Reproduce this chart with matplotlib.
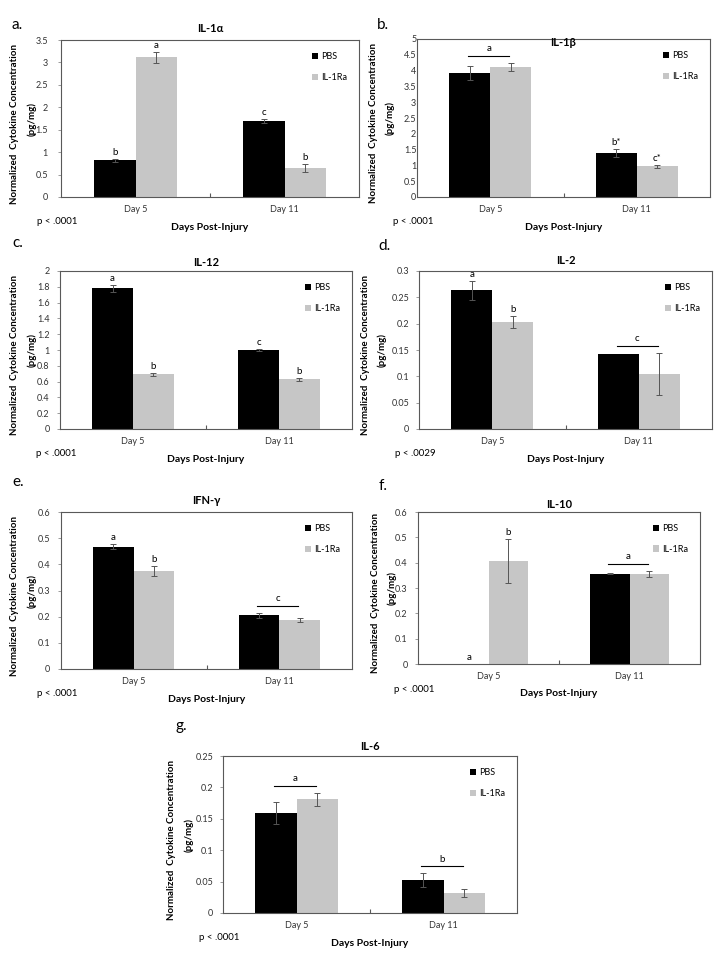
import numpy as np
import matplotlib
matplotlib.use("Agg")
import matplotlib.pyplot as plt
from matplotlib.patches import Patch

plt.rcParams['font.family'] = ['Lato', 'DejaVu Sans']

# data
days = ["Day 5", "Day 11"]
groups = ["PBS", "IL-1Ra"]
titles = ["IL-1α", "IL-1β", "IL-12", "IL-2", "IFN-γ", "IL-10", "IL-6"]
panel_tags = ["a.", "b.", "c.", "d.", "e.", "f.", "g."]
p_values = ["p < .0001", "p < .0001", "p < .0001", "p < .0029",
            "p < .0001", "p < .0001", "p < .0001"]

pbs_mean = [[0.82, 1.70], [3.92, 1.39], [1.78, 1.00], [0.263, 0.142],
            [0.468, 0.205], [0.0, 0.356], [0.159, 0.052]]
pbs_err = [[0.03, 0.04], [0.22, 0.12], [0.04, 0.01], [0.018, 0.0],
           [0.01, 0.01], [0.0, 0.002], [0.017, 0.011]]
ra_mean = [[3.11, 0.65], [4.12, 0.97], [0.69, 0.63], [0.203, 0.104],
           [0.375, 0.188], [0.408, 0.356], [0.181, 0.032]]
ra_err = [[0.12, 0.09], [0.12, 0.04], [0.02, 0.02], [0.012, 0.04],
          [0.02, 0.008], [0.087, 0.012], [0.01, 0.007]]

# letters per bar (PBS, IL-1Ra) for each day; a single string = one letter over a bracket
letters = [
    [("b", "a"), ("c", "b")],
    ["a", ("b*", "c*")],
    [("a", "b"), ("c", "b")],
    [("a", "b"), "c"],
    [("a", "b"), "c"],
    [("a", "b"), "a"],
    ["a", "b"],
]

y_max = [3.5, 5, 2, 0.3, 0.6, 0.6, 0.25]
y_step = [0.5, 0.5, 0.2, 0.05, 0.1, 0.1, 0.05]

# layout in figure pixels: left, top, width, height
W, H = 720, 960
boxes = [(61, 40, 298, 157), (417, 39, 293, 158),
         (60, 271, 292, 158), (419, 271, 293, 158),
         (61, 512, 291, 157), (418, 512, 282, 152),
         (223, 756, 294, 157)]
title_off = [12, -4, 9, 11, 11, 7, 9]
tick_pad = [7, 0.5, 5, 4.5, 5.5, 5, 4.5]
ylab_off = [-46, -44, -45, -54, -46, -43, -51]
tag_pos = [(12, 25), (377, 25), (12, 243), (378, 246), (12, 482), (379, 486), (175, 726)]

black = "#000000"
grey = "#c6c6c6"
frame = "#595959"
err_col = "#555555"

fig = plt.figure(figsize=(7.2, 9.6), dpi=100)

bw = 0.28
x = np.arange(len(days))

for i in range(7):
    l, t, w, h = boxes[i]
    ax = fig.add_axes([l / W, 1 - (t + h) / H, w / W, h / H])
    top = y_max[i]

    ax.bar(x - bw / 2, pbs_mean[i], bw, color=black, zorder=2)
    ax.bar(x + bw / 2, ra_mean[i], bw, color=grey, zorder=2)
    for xs, m, e in [(x - bw / 2, pbs_mean[i], pbs_err[i]), (x + bw / 2, ra_mean[i], ra_err[i])]:
        for xx, mm, ee in zip(xs, m, e):
            if ee > 0:
                ax.errorbar(xx, mm, yerr=ee, color=err_col, elinewidth=0.7,
                            capsize=2, capthick=0.7, zorder=3)

    for d in range(len(days)):
        lab = letters[i][d]
        ups = [pbs_mean[i][d] + pbs_err[i][d], ra_mean[i][d] + ra_err[i][d]]
        if isinstance(lab, str):
            yline = max(ups) + 0.045 * top
            ax.plot([x[d] - 0.15, x[d] + 0.13], [yline, yline], color=black, lw=0.8, zorder=3)
            ax.annotate(lab, (x[d] - 0.01, yline), xytext=(0, 2), textcoords="offset points",
                        ha="center", va="bottom", fontsize=7)
        else:
            for k, off in enumerate([-bw / 2, bw / 2]):
                ax.annotate(lab[k], (x[d] + off, ups[k]), xytext=(0, 1.5), textcoords="offset points",
                            ha="center", va="bottom", fontsize=7)

    ax.set_xlim(-0.5, 1.5)
    ax.set_ylim(0, top)
    ax.set_yticks(np.arange(0, top + y_step[i] / 2, y_step[i]))
    ax.set_yticklabels([f"{round(v, 4):g}" for v in ax.get_yticks()])
    ax.tick_params(axis="y", length=2.5 if i != 1 else 0, width=0.6, color="#8c8c8c",
                   pad=tick_pad[i], labelsize=6.5, labelcolor="#333333")
    ax.set_xticks(x)
    ax.set_xticklabels(days)
    ax.tick_params(axis="x", length=0, pad=6, labelsize=6.5, labelcolor="#333333")
    ax.set_xticks([0.5], minor=True)
    ax.tick_params(axis="x", which="minor", direction="in", length=3, color=frame, width=0.8)
    for s in ax.spines.values():
        s.set_color(frame)
        s.set_linewidth(0.8)

    ax.annotate(titles[i], (0.5, 1), xycoords="axes fraction", xytext=(0, title_off[i]),
                textcoords="offset pixels", ha="center", va="center",
                fontsize=8, fontweight="bold")
    ax.annotate("Days Post-Injury", (0.5, 0), xycoords="axes fraction", xytext=(0, -30),
                textcoords="offset pixels", ha="center", va="center",
                fontsize=7.5, fontweight="bold")
    ax.annotate(p_values[i], (0, 0), xycoords="axes fraction", xytext=(-24, -25),
                textcoords="offset pixels", ha="left", va="center", fontsize=7)
    ax.annotate("Normalized  Cytokine Concentration", (0, 0.5), xycoords="axes fraction",
                xytext=(ylab_off[i], -5), textcoords="offset pixels", rotation=90,
                ha="center", va="center", fontsize=7, fontweight="bold")
    ax.annotate("(pg/mg)", (0, 0.5), xycoords="axes fraction",
                xytext=(ylab_off[i] + 17, 0), textcoords="offset pixels", rotation=90,
                ha="center", va="center", fontsize=7, fontweight="bold")

    handles = [Patch(facecolor=black), Patch(facecolor=grey)]
    ax.legend(handles, groups, loc="upper right", frameon=False, fontsize=6.5,
              handlelength=0.7, handleheight=0.7, handletextpad=0.3,
              labelspacing=1.3, borderaxespad=0.6, bbox_to_anchor=(0.99, 0.98))

    fig.text(tag_pos[i][0] / W, 1 - tag_pos[i][1] / H, panel_tags[i],
             fontsize=11, ha="left", va="center")

fig.savefig("out.png", dpi=100, facecolor="white")
